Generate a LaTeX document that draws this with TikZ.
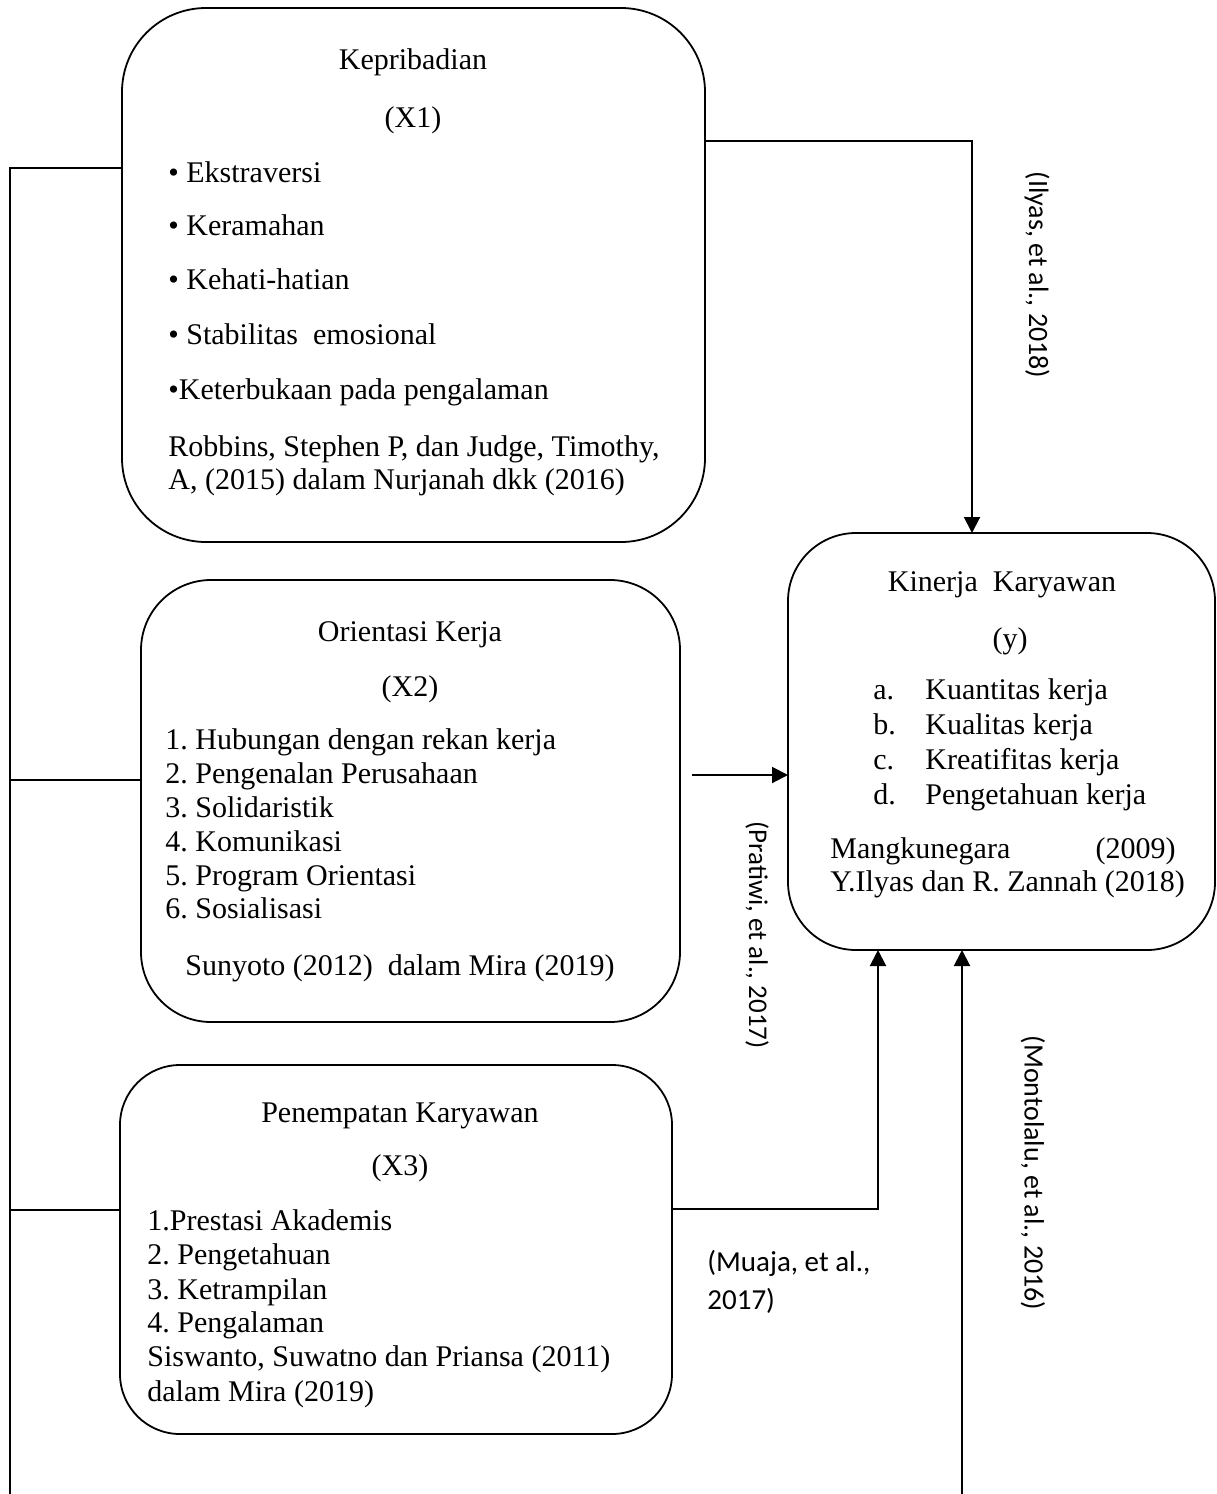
\documentclass[tikz,border=0pt]{standalone}
\usepackage{fontspec}
\setmainfont{Liberation Serif}
\newfontfamily\calib{Carlito}
\usetikzlibrary{arrows.meta}
\begin{document}
\frenchspacing
\begin{tikzpicture}[x=0.5pt,y=-0.5pt,
  box/.style={draw, line width=0.9pt, rounded corners=#1, inner sep=0pt, outer sep=0pt},
  txt/.style={font=\fontsize{15}{18}\selectfont, inner sep=0pt, anchor=base west},
  ctxt/.style={font=\fontsize{15}{18}\selectfont, inner sep=0pt, anchor=base},
  rtxt/.style={font=\fontsize{15}{18}\selectfont, inner sep=0pt, anchor=base east},
  lbl/.style={font=\calib\fontsize{#1}{16}\selectfont, inner sep=0pt, rotate=-90},
  mlbl/.style={font=\calib\fontsize{14.5}{18}\selectfont, inner sep=0pt, anchor=base west},
  conn/.style={line width=1pt},
  arr/.style={line width=1pt, -{Triangle[length=8pt,width=8pt]}}
]
\useasboundingbox (0,0) rectangle (1216,1494);

% boxes
\node[box=42pt, minimum width=291.5pt, minimum height=267pt] (x1) at (413.5,275) {};
\node[box=35pt, minimum width=269.5pt, minimum height=221pt] (x2) at (410.5,801) {};
\node[box=30pt, minimum width=276pt, minimum height=184.5pt] (x3) at (396,1249.5) {};
\node[box=34pt, minimum width=213.5pt, minimum height=208.5pt] (y) at (1001.5,741.5) {};

% X1 text
\node[ctxt] (x1t) at (413,69) {Kepribadian};
\node[ctxt] (x1v) at (413,127) {(X1)};
\node[txt] (x1a) at (168,182) {• Ekstraversi};
\node[txt] (x1b) at (168,235) {• Keramahan};
\node[txt] (x1c) at (168,289) {• Kehati-hatian};
\node[txt] (x1d) at (168,344) {• Stabilitas\ \ emosional};
\node[txt] (x1e) at (168,399) {•Keterbukaan pada pengalaman};
\node[txt] (x1r1) at (168,456) {Robbins, Stephen P, dan Judge, Timothy,};
\node[txt] (x1r2) at (168,489) {A, (2015) dalam Nurjanah dkk (2016)};

% X2 text
\node[ctxt] (x2t) at (410,641) {Orientasi Kerja};
\node[ctxt] (x2v) at (410,696) {(X2)};
\node[txt] (x2a) at (165,749) {1. Hubungan dengan rekan kerja};
\node[txt] (x2b) at (165,783) {2. Pengenalan Perusahaan};
\node[txt] (x2c) at (165,817) {3. Solidaristik};
\node[txt] (x2d) at (165,851) {4. Komunikasi};
\node[txt] (x2e) at (165,885) {5. Program Orientasi};
\node[txt] (x2f) at (165,918) {6. Sosialisasi};
\node[txt] (x2r) at (185,975) {Sunyoto (2012)\ \ dalam Mira (2019)};

% Y text
\node[ctxt] (yt) at (1002,591) {Kinerja\ \ Karyawan};
\node[ctxt] (yv) at (1010,648) {(y)};
\node[txt] (ya1) at (873,699) {a.};
\node[txt] (ya2) at (925,699) {Kuantitas\ kerja};
\node[txt] (yb1) at (873,734) {b.};
\node[txt] (yb2) at (925,734) {Kualitas\ kerja};
\node[txt] (yc1) at (873,769) {c.};
\node[txt] (yc2) at (925,769) {Kreatifitas kerja};
\node[txt] (yd1) at (873,804) {d.};
\node[txt] (yd2) at (925,804) {Pengetahuan kerja};
\node[txt] (yr1) at (830,858) {Mangkunegara};
\node[rtxt] (yr2) at (1176,858) {(2009)};
\node[txt] (yr3) at (830,891) {Y.Ilyas dan R. Zannah (2018)};

% X3 text
\node[ctxt] (x3t) at (400,1122) {Penempatan Karyawan};
\node[ctxt] (x3v) at (400,1175) {(X3)};
\node[txt] (x3a) at (147,1230) {1.Prestasi Akademis};
\node[txt] (x3b) at (147,1264) {2. Pengetahuan};
\node[txt] (x3c) at (147,1299) {3. Ketrampilan};
\node[txt] (x3d) at (147,1332) {4. Pengalaman};
\node[txt] (x3r1) at (147,1366) {Siswanto, Suwatno dan Priansa (2011)};
\node[txt] (x3r2) at (147,1401) {dalam Mira (2019)};

% labels
\node[lbl=14] (l1) at (1037,275) {(Ilyas, et al., 2018)};
\node[lbl=13.5] (l2) at (757,935) {(Pratiwi, et al., 2017)};
\node[lbl=14] (l3) at (1033,1173) {(Montolalu, et al., 2016)};
\node[mlbl] (l4a) at (707,1271) {(Muaja, et al.,};
\node[mlbl] (l4b) at (707,1309) {2017)};

% coordinates
\coordinate (L0) at (10,168);
\coordinate (L2) at (10,780);
\coordinate (L3) at (10,1210);
\coordinate (Lb) at (10,1494);
\coordinate (a1) at (972,141);
\coordinate (a2) at (692,775);
\coordinate (a3) at (878,1209);
\coordinate (a4) at (962,1494);

% left bus
\draw[conn] (Lb) -- (L0) -- (L0 -| x1.west);
\draw[conn] (L2) -- (L2 -| x2.west);
\draw[conn] (L3) -- (L3 -| x3.west);

% arrows
\draw[arr] (a1 -| x1.east) -- (a1) -- (a1 |- y.north);
\draw[arr] (a2) -- (a2 -| y.west);
\draw[arr] (a3 -| x3.east) -- (a3) -- (a3 |- y.south);
\draw[arr] (a4) -- (a4 |- y.south);
\end{tikzpicture}
\end{document}
